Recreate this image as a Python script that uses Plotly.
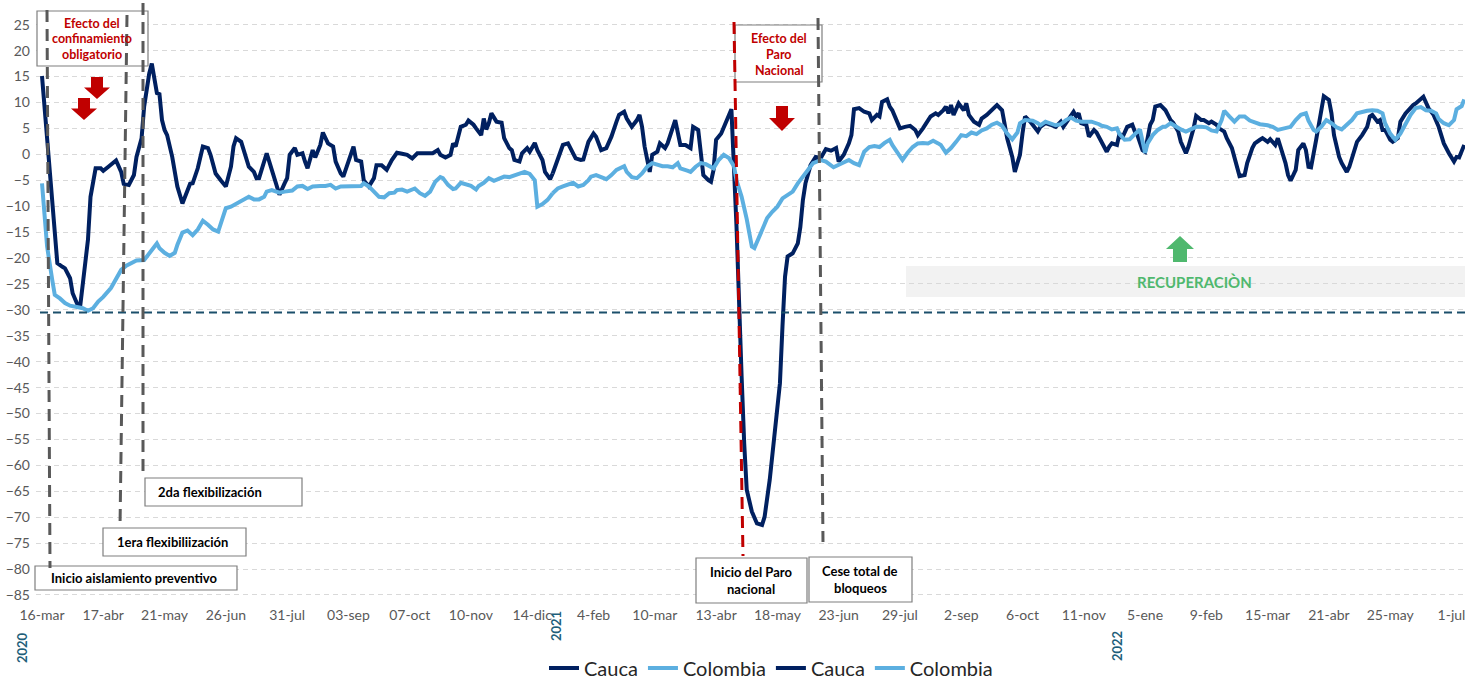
import plotly.graph_objects as go

# ---------------- data ----------------
tick_labels = ["16-mar", "17-abr", "21-may", "26-jun", "31-jul", "03-sep", "07-oct", "10-nov",
               "14-dic", "4-feb", "10-mar", "13-abr", "18-may", "23-jun", "29-jul", "2-sep",
               "6-oct", "11-nov", "5-ene", "9-feb", "15-mar", "21-abr", "25-may", "1-jul"]
tick_step = 24          # observations between labels
year_labels = ["2020", "2021", "2022"]
threshold = -30.5
split_idx = 200         # second pair of series starts here

cauca_idx = [0, 2, 4, 6, 8, 9, 11, 12, 14, 15, 16, 18, 19, 21, 23, 24, 26, 28, 29, 31, 32, 34, 36, 37, 39, 40, 42, 43, 44, 45,
             46, 47, 48, 49, 51, 53, 55, 57, 58, 59, 61, 63, 65, 66, 68, 70, 72, 74, 75, 76, 78, 79, 81, 83, 84, 85, 87, 88, 90, 92,
             93, 95, 96, 97, 99, 100, 102, 103, 104, 106, 107, 109, 110, 112, 114, 115, 117, 118, 120, 122, 123, 125, 126, 128, 130, 131, 133, 135, 137, 139,
             141, 143, 145, 147, 149, 153, 155, 156, 158, 160, 161, 162, 164, 166, 167, 169, 170, 172, 173, 174, 175, 176, 178, 180, 181, 183, 184, 185, 187, 188,
             190, 191, 193, 194, 196, 197, 199, 200, 202, 204, 206, 207, 209, 211, 212, 214, 216, 217, 219, 221, 223, 225, 226, 228, 229, 231, 233, 234, 235, 236,
             238, 239, 241, 242, 244, 245, 247, 248, 250, 252, 254, 255, 257, 258, 259, 261, 262, 263, 264, 266, 268, 270, 272, 273, 274, 275, 276, 278, 280, 282,
             283, 285, 287, 289, 290, 291, 292, 294, 296, 297, 298, 299, 301, 303, 305, 307, 309, 311, 312, 314, 316, 317, 318, 320, 322, 324, 325, 327, 328, 329,
             331, 332, 333, 335, 336, 338, 340, 342, 343, 345, 347, 348, 350, 351, 353, 354, 355, 356, 357, 358, 359, 361, 362, 363, 365, 367, 368, 370, 372, 374,
             376, 377, 378, 380, 381, 382, 383, 384, 385, 387, 388, 390, 391, 393, 395, 397, 399, 400, 401, 403, 404, 405, 406, 407, 409, 410, 412, 413, 415, 417,
             418, 419, 421, 422, 423, 425, 427, 428, 429, 431, 432, 433, 434, 435, 436, 438, 440, 442, 443, 445, 446, 448, 449, 451, 452, 454, 455, 457, 458, 460,
             461, 463, 464, 466, 468, 469, 471, 472, 474, 475, 477, 478, 480, 481, 483, 484, 485, 487, 488, 489, 491, 492, 494, 495, 496, 497, 499, 501, 502, 504,
             505, 506, 508, 509, 511, 512, 514, 515, 517, 519, 520, 521, 523, 524, 525, 526, 528, 529, 531, 532, 534, 535, 537, 538, 540, 541, 543, 545, 547, 549,
             551, 553, 554, 555, 557]
cauca_val = [15.1, 3.4, -10.1, -21.0, -21.7, -22.0, -23.9, -26.8, -29.1, -29.1, -24.9, -16.5, -8.2, -2.7, -2.7, -3.2, -2.4, -1.6, -1.2, -3.4, -5.7, -5.9, -4.0, -0.5, 3.1, 9.2, 15.6, 17.5, 15.0, 11.8,
             11.6, 6.6, 4.7, 3.7, -0.5, -6.2, -9.5, -7.2, -5.7, -5.6, -2.7, 1.5, 1.2, -0.1, -3.7, -5.0, -6.2, -2.4, 1.5, 3.1, 2.4, 0.8, -2.4, -3.4, -4.6, -4.6, -1.1, 0.2, -3.0, -6.2,
             -7.8, -5.6, -4.6, -0.1, 1.2, -0.1, 0.2, -1.4, -2.7, 0.8, -0.6, 1.8, 4.2, 2.1, 1.5, -1.4, -3.7, -4.3, -1.4, 1.5, -1.1, -1.4, -5.0, -6.2, -4.6, -2.1, -2.1, -3.0, -1.1, 0.3,
             0.1, -0.1, -0.8, 0.2, 0.2, 0.2, 0.8, -0.1, -0.6, -0.1, 2.1, 1.5, 5.3, 5.7, 6.5, 5.7, 5.0, 3.7, 6.9, 4.8, 6.0, 7.9, 6.3, 6.1, 3.1, 1.2, 0.8, -1.1, -1.4, 0.2,
             1.2, 0.5, 2.2, 0.8, -1.1, -3.4, -4.8, -3.7, -1.1, 1.8, 2.1, 1.2, -0.8, -1.1, -1.0, 2.4, 4.0, 3.4, 0.8, 1.2, 3.4, 6.3, 7.6, 8.2, 6.9, 5.3, 6.6, 7.6, 5.3, 1.5,
             -3.4, -0.1, 0.5, 2.1, 1.2, 2.1, 5.3, 6.6, 1.8, 1.8, 1.2, 5.3, 4.7, 0.2, -4.0, -5.0, -5.3, -3.0, 2.8, 4.0, 6.3, 8.7, -14.0, -30.0, -42.9, -55.7, -64.7, -68.9, -71.2, -71.5,
             -69.9, -62.8, -53.8, -44.2, -33.2, -23.6, -19.7, -19.1, -17.2, -14.0, -8.8, -5.6, -2.1, -0.5, -0.7, 1.0, 0.7, 1.2, -1.4, -0.1, 2.1, 3.7, 8.7, 8.9, 8.2, 7.9, 6.6, 7.6, 7.3, 10.1,
             10.6, 9.2, 8.5, 6.0, 5.0, 5.3, 5.5, 4.7, 3.7, 5.0, 6.6, 7.3, 7.9, 7.6, 8.5, 9.2, 7.9, 9.5, 7.6, 8.5, 9.8, 8.5, 9.8, 7.6, 6.3, 5.7, 6.9, 7.6, 8.5, 9.5,
             8.5, 5.3, 3.1, -0.5, -3.4, -1.7, -0.1, 4.0, 7.3, 6.3, 5.7, 4.4, 5.3, 6.0, 5.7, 5.3, 6.3, 5.3, 6.0, 7.6, 8.2, 7.3, 7.9, 6.0, 5.7, 3.4, 4.7, 4.2, 2.4, 0.5,
             1.5, 2.1, 1.8, 4.0, 3.1, 5.3, 5.7, 4.4, 3.7, 0.8, 0.5, 2.8, 5.7, 6.6, 9.2, 9.5, 8.5, 6.6, 6.1, 4.4, 2.4, 0.2, 1.5, 5.0, 7.4, 6.6, 6.6, 6.0, 6.3, 5.7,
             5.0, 4.4, 3.1, 1.2, -2.7, -4.2, -4.0, -1.7, 1.2, 2.1, 2.8, 3.1, 2.4, 2.9, 1.8, 3.1, 1.5, -1.7, -4.0, -5.1, -3.0, 0.8, 2.1, 0.8, -2.4, -2.5, 2.8, 8.5, 11.2, 10.5,
             7.9, 3.7, -0.5, -1.7, -3.4, -2.4, 0.5, 2.4, 3.7, 5.3, 7.3, 7.6, 6.3, 6.6, 4.7, 4.7, 2.8, 2.4, 3.1, 6.3, 7.9, 8.5, 9.5, 9.8, 10.8, 11.1, 8.9, 7.6, 5.3, 2.1,
             0.2, -1.4, -0.5, -0.6, 1.8]

colombia_idx = [0, 1, 2, 4, 5, 7, 9, 11, 14, 16, 18, 20, 22, 24, 27, 29, 31, 33, 35, 37, 40, 42, 44, 45, 46, 48, 50, 52, 53, 55,
                57, 59, 61, 63, 65, 67, 69, 71, 72, 74, 76, 78, 80, 81, 83, 85, 87, 88, 90, 92, 93, 95, 98, 100, 102, 104, 106, 109, 111, 113,
                115, 117, 119, 123, 125, 126, 128, 130, 132, 134, 136, 138, 139, 141, 143, 146, 148, 150, 152, 154, 156, 157, 159, 161, 162, 164, 166, 168, 170, 171,
                173, 175, 177, 179, 181, 183, 185, 187, 189, 191, 193, 194, 196, 198, 200, 202, 204, 206, 208, 210, 212, 214, 215, 217, 219, 221, 223, 225, 228, 229,
                231, 233, 235, 237, 239, 241, 243, 245, 247, 249, 250, 253, 254, 256, 258, 260, 263, 265, 267, 269, 271, 272, 274, 276, 278, 279, 281, 283, 284, 286,
                288, 290, 292, 294, 296, 298, 300, 302, 305, 307, 310, 312, 314, 316, 318, 320, 322, 324, 326, 328, 330, 332, 333, 335, 337, 339, 341, 343, 345, 347,
                349, 351, 352, 354, 356, 358, 360, 362, 364, 366, 368, 370, 372, 374, 376, 378, 380, 382, 383, 385, 388, 390, 391, 393, 395, 397, 399, 401, 403, 405,
                407, 409, 411, 414, 415, 417, 419, 421, 422, 424, 426, 428, 430, 432, 433, 435, 437, 439, 440, 442, 444, 446, 448, 450, 452, 454, 456, 458, 460, 462,
                463, 465, 467, 469, 471, 473, 475, 477, 480, 482, 484, 486, 489, 491, 493, 495, 496, 498, 499, 501, 503, 505, 507, 509, 511, 513, 515, 517, 519, 521,
                523, 525, 526, 528, 530, 532, 534, 536, 538, 540, 542, 544, 546, 547, 549, 551, 553, 554, 556, 557]
colombia_val = [-5.6, -10.7, -17.8, -24.2, -27.1, -27.8, -28.7, -29.2, -29.4, -29.7, -30.2, -29.7, -28.4, -27.5, -25.8, -23.9, -22.3, -21.5, -20.9, -20.5, -20.4, -19.1, -17.8, -17.2, -18.1, -19.0, -19.6, -19.0, -17.5, -15.1,
                -14.7, -15.6, -14.5, -12.8, -13.6, -14.5, -14.9, -12.0, -10.4, -10.1, -9.6, -9.1, -8.4, -8.2, -8.7, -8.7, -8.2, -7.2, -6.9, -7.2, -7.4, -7.2, -7.0, -6.2, -6.1, -6.7, -6.2, -6.1, -6.1, -5.9,
                -6.6, -6.2, -6.2, -6.1, -6.1, -5.6, -6.2, -7.2, -8.2, -8.3, -7.5, -7.4, -6.9, -6.8, -7.2, -6.6, -7.5, -8.0, -7.2, -5.3, -4.4, -4.6, -5.9, -6.7, -6.6, -5.5, -5.9, -6.1, -6.8, -6.1,
                -5.5, -4.6, -5.1, -4.8, -4.3, -4.4, -4.0, -3.7, -3.4, -3.8, -5.0, -10.1, -9.6, -8.8, -7.5, -6.6, -6.2, -5.9, -5.5, -6.2, -5.9, -5.0, -4.3, -4.0, -4.4, -4.8, -4.0, -3.0, -2.3, -3.4,
                -4.4, -4.6, -3.7, -2.4, -1.7, -2.1, -2.3, -2.3, -2.5, -1.7, -2.7, -3.2, -3.4, -2.4, -1.7, -1.9, -2.7, -1.1, -0.1, -0.7, -2.3, -5.0, -8.2, -12.5, -17.8, -18.1, -15.9, -13.6, -12.3, -11.1,
                -10.1, -8.5, -7.8, -7.2, -5.6, -4.3, -2.7, -1.7, -1.1, -1.4, -2.5, -2.1, -1.6, -1.1, -1.7, -2.1, 0.5, 1.4, 1.6, 1.4, 2.2, 2.8, 1.8, 0.3, -1.1, 0.3, 1.4, 2.1, 2.2, 2.1,
                2.6, 2.1, 1.8, 0.3, 1.2, 2.4, 3.7, 3.5, 4.2, 3.9, 4.6, 5.0, 5.7, 6.1, 5.5, 4.0, 2.9, 4.2, 6.0, 6.6, 6.5, 6.0, 5.6, 6.3, 6.0, 5.6, 5.8, 6.6, 7.1, 6.5,
                6.3, 6.3, 6.3, 5.8, 5.5, 5.3, 4.8, 5.0, 3.9, 2.8, 2.9, 3.9, 4.8, 0.3, 2.1, 3.7, 4.7, 5.3, 5.3, 6.0, 5.3, 4.8, 4.4, 4.8, 5.3, 5.3, 5.2, 4.6, 4.4, 6.6,
                8.4, 7.3, 6.3, 7.3, 7.3, 6.5, 6.1, 5.8, 5.6, 5.3, 4.7, 5.0, 5.3, 6.6, 7.6, 7.9, 6.5, 4.7, 4.4, 5.3, 6.6, 6.0, 5.2, 4.8, 5.6, 6.6, 7.9, 8.2, 8.4, 8.5,
                8.4, 7.9, 6.0, 4.0, 2.8, 4.0, 6.0, 7.6, 8.9, 9.1, 8.5, 8.4, 7.9, 6.8, 6.0, 5.6, 6.6, 8.7, 9.3, 10.6]

# ---------------- layout geometry ----------------
W, H = 1465, 679
ML, MR, MT, MB = 36, 0, 14, 74
PW, PH = W - ML - MR, H - MT - MB
FONT = "Lato, 'Liberation Sans', sans-serif"
NAVY = "#002060"
LIGHT = "#5CAFE0"
RED = "#C00000"
GRAY_LINE = "#595959"
BOX_BORDER = "#7F7F7F"


def px(x):
    return (x - ML) / PW


def py(y):
    return (H - MB - y) / PH


def split(xs, ys, at):
    a = [(x, y) for x, y in zip(xs, ys) if x <= at]
    b = [(x, y) for x, y in zip(xs, ys) if x >= a[-1][0]]
    return ([p[0] for p in a], [p[1] for p in a]), ([p[0] for p in b], [p[1] for p in b])


(c1x, c1y), (c2x, c2y) = split(cauca_idx, cauca_val, split_idx)
(k1x, k1y), (k2x, k2y) = split(colombia_idx, colombia_val, split_idx)

fig = go.Figure()
for (xs, ys, name, col) in [(c1x, c1y, "Cauca", NAVY), (k1x, k1y, "Colombia", LIGHT),
                            (c2x, c2y, "Cauca", NAVY), (k2x, k2y, "Colombia", LIGHT)]:
    fig.add_trace(go.Scatter(x=xs, y=ys, mode="lines", name=name,
                             line=dict(color=col, width=4), hoverinfo="skip"))

shapes = []
# threshold dashed line
shapes.append(dict(type="line", xref="paper", yref="y", x0=px(40), x1=1, y0=threshold, y1=threshold,
                   line=dict(color="#1B4F6B", width=2, dash="8px,5px"), layer="above"))

# gray band for recovery
shapes.append(dict(type="rect", xref="paper", yref="paper", x0=px(906), x1=px(1465), y0=py(297), y1=py(266),
                   fillcolor="#F2F2F2", line=dict(width=0), layer="below"))

# text boxes
boxes = [(37, 11, 148, 66), (735, 25, 822, 82), (145, 478, 302, 506), (103, 528, 246, 556),
         (35, 566, 237, 590), (696, 558, 807, 603), (809, 557, 912, 602)]
for (x0, y0, x1, y1) in boxes:
    shapes.append(dict(type="rect", xref="paper", yref="paper", x0=px(x0), x1=px(x1), y0=py(y1), y1=py(y0),
                       fillcolor="white", line=dict(color=BOX_BORDER, width=1.2), layer="above"))

# vertical event lines (x_top, y_top, x_bottom, y_bottom, color)
vlines = [(47, 10, 50, 568, GRAY_LINE), (127, 15, 120, 528, GRAY_LINE), (143, 3, 143, 477, GRAY_LINE),
          (734, 22, 743, 556, RED), (818, 18, 823, 542, GRAY_LINE)]
for (x0, y0, x1, y1, col) in vlines:
    shapes.append(dict(type="line", xref="paper", yref="paper", x0=px(x0), y0=py(y0), x1=px(x1), y1=py(y1),
                       line=dict(color=col, width=3, dash="12px,7px"), layer="above"))


def down_arrow(cx, ytop, ybot, shaft=6, head=13, color=RED):
    ym = ytop + (ybot - ytop) * 0.48
    pts = [(cx - shaft, ytop), (cx + shaft, ytop), (cx + shaft, ym), (cx + head, ym), (cx, ybot),
           (cx - head, ym), (cx - shaft, ym)]
    path = "M " + " L ".join(f"{px(x):.5f},{py(y):.5f}" for x, y in pts) + " Z"
    return dict(type="path", xref="paper", yref="paper", path=path, fillcolor=color,
                line=dict(width=0), layer="above")


def up_arrow(cx, ytop, ybot, shaft=7, head=14, color="#4FB86E"):
    ym = ytop + (ybot - ytop) * 0.5
    pts = [(cx, ytop), (cx + head, ym), (cx + shaft, ym), (cx + shaft, ybot), (cx - shaft, ybot),
           (cx - shaft, ym), (cx - head, ym)]
    path = "M " + " L ".join(f"{px(x):.5f},{py(y):.5f}" for x, y in pts) + " Z"
    return dict(type="path", xref="paper", yref="paper", path=path, fillcolor=color,
                line=dict(width=0), layer="above")


shapes += [down_arrow(97, 77, 99), down_arrow(84, 98, 120), down_arrow(782, 106, 131),
           up_arrow(1180, 236, 262)]

annotations = []


def txt(x, y, text, color="#000000", size=13, bold=True, angle=0):
    annotations.append(dict(xref="paper", yref="paper", x=px(x), y=py(y), xanchor="center", yanchor="middle",
                            text=f"<b>{text}</b>" if bold else text, showarrow=False, textangle=angle,
                            font=dict(family=FONT, size=size, color=color), align="center"))


txt(92, 23, "Efecto del", RED, 12.5)
txt(92, 38, "confinamiento", RED, 12.5)
txt(92, 54, "obligatorio", RED, 12.5)
txt(779, 38, "Efecto del", RED, 12.5)
txt(779, 54, "Paro", RED, 12.5)
txt(779, 70, "Nacional", RED, 12.5)
txt(210, 492, "2da flexibilización")
txt(172, 542, "1era flexibiliización")
txt(134, 578, "Inicio aislamiento preventivo")
txt(751, 572, "Inicio del Paro")
txt(751, 589, "nacional")
txt(860, 571, "Cese total de")
txt(860, 588, "bloqueos")
txt(1194, 282, "RECUPERACIÒN", "#4FB86E", 15)
for lab, (x, y) in zip(year_labels, [(22, 648), (556, 626), (1117, 646)]):
    txt(x, y, lab, "#1F5F7A", 13, True, -90)

fig.update_layout(
    width=W, height=H,
    margin=dict(l=ML, r=MR, t=MT, b=MB, pad=0, autoexpand=False),
    paper_bgcolor="white", plot_bgcolor="white",
    font=dict(family=FONT, color="#595959"),
    showlegend=True,
    legend=dict(orientation="h", xref="container", yref="container",
                x=771 / W, xanchor="center", y=1 - 668 / H, yanchor="middle",
                font=dict(family=FONT, size=20, color="#262626"), itemwidth=30,
                bgcolor="rgba(0,0,0,0)", tracegroupgap=0),
    shapes=shapes,
    annotations=annotations,
    xaxis=dict(range=[-2.35, 557.3], tickmode="array",
               tickvals=[i * tick_step for i in range(len(tick_labels))], ticktext=tick_labels,
               showgrid=False, zeroline=False, showline=False, ticks="",
               ticklabeloverflow="allow", automargin=False,
               tickfont=dict(family=FONT, size=14, color="#595959")),
    yaxis=dict(range=[-86.93, 27.06], tickmode="array", tickvals=list(range(-85, 26, 5)),
               showgrid=True, gridcolor="#D9D9D9", gridwidth=1, griddash="5px,4px",
               zeroline=False, showline=False, ticks="", ticklabelstandoff=5, automargin=False,
               tickfont=dict(family=FONT, size=14, color="#595959")),
)

fig.write_html("out.html", config={"displayModeBar": False},
               post_script="document.body.style.margin='0px';"
                           "document.documentElement.style.overflow='hidden';")
